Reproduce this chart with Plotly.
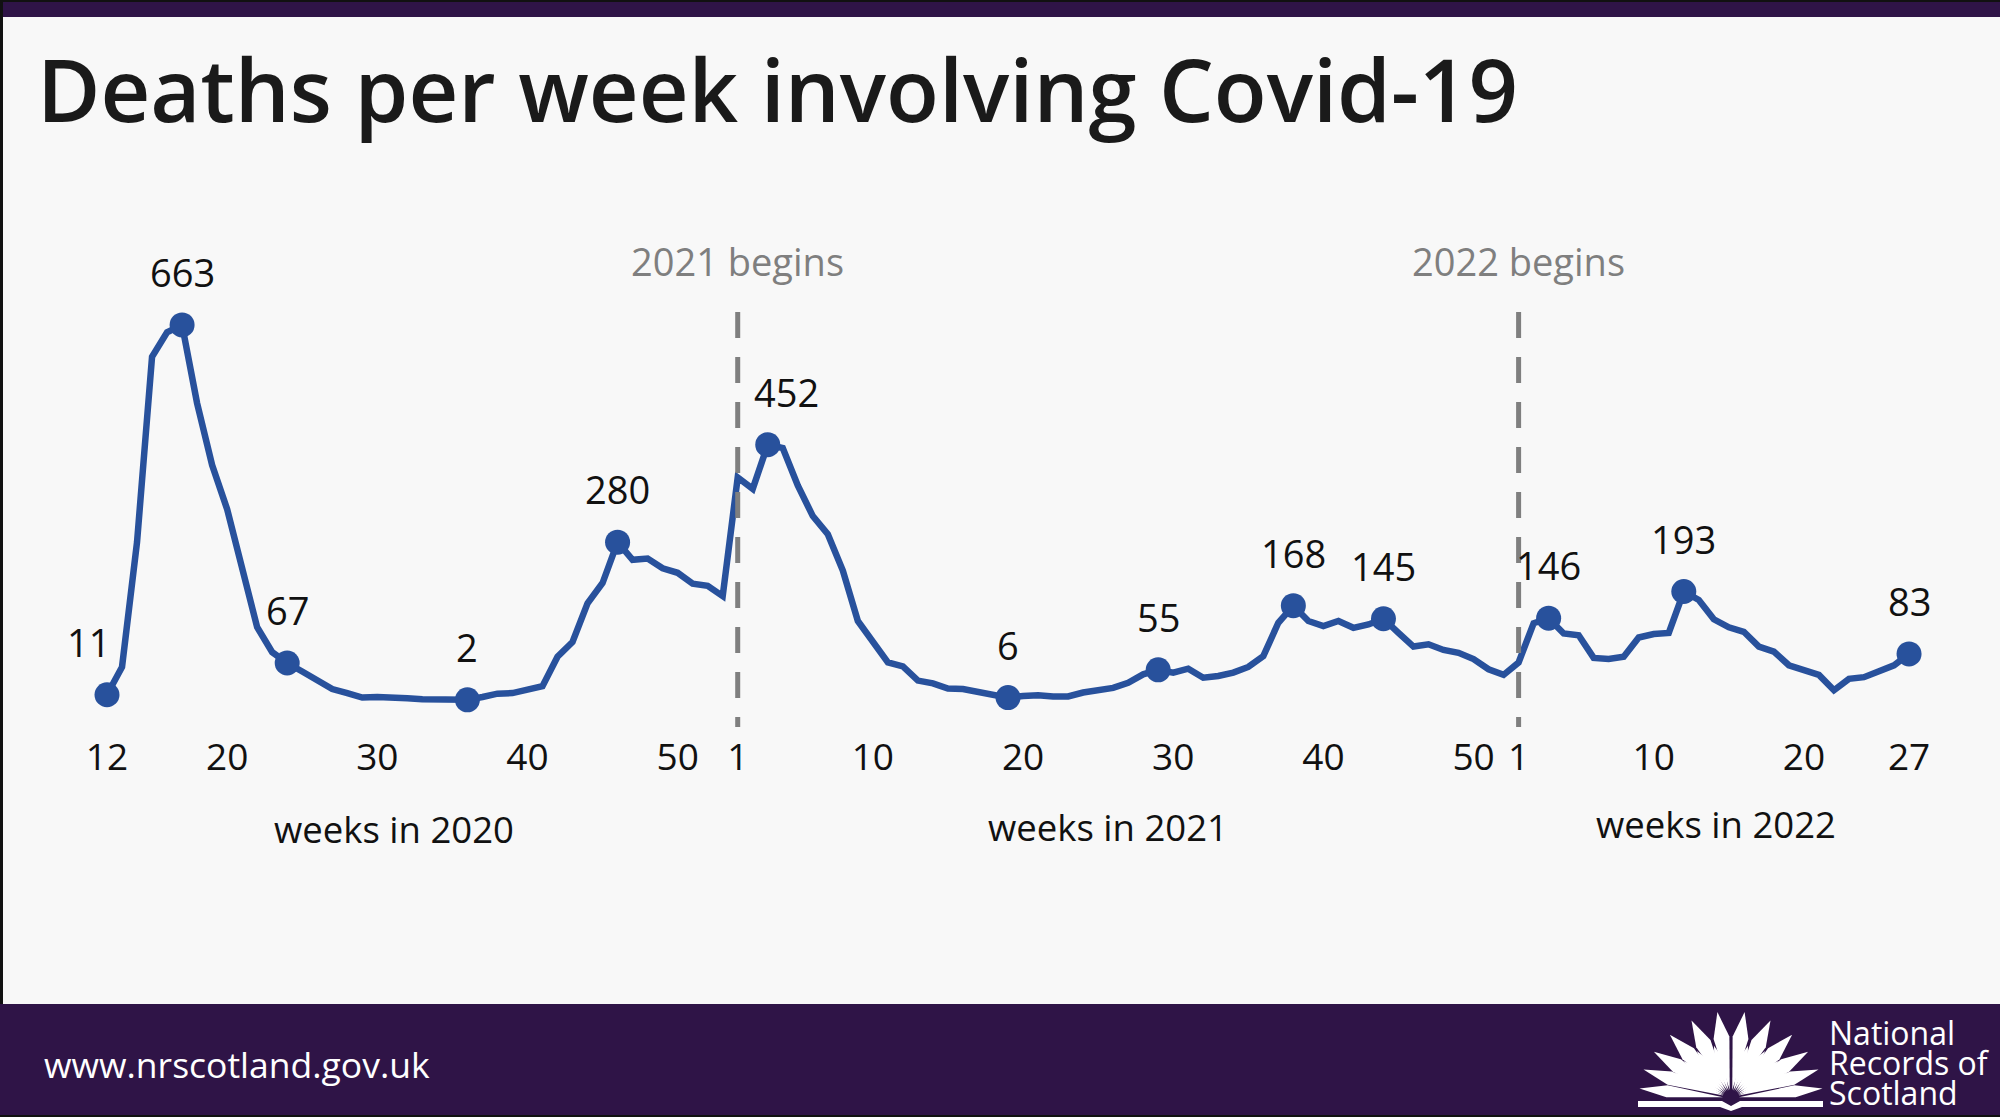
import math
import plotly.graph_objects as go

# ---------------- data ----------------
weeks_2020 = list(range(12, 54))
deaths_2020 = [11, 60, 280, 607, 650, 663, 525, 416, 338, 236, 130, 86, 67,
               52, 38, 21, 14, 6, 7, 7, 5, 3, 3, 4, 2,
               7, 13, 14, 21, 26, 78, 104, 172, 208, 280,
               249, 251, 234, 226, 207, 203, 185]
weeks_2021 = list(range(1, 53))
deaths_2021 = [394, 374, 452, 446, 380, 326, 294, 230, 141, 104,
               68, 61, 36, 31, 22, 21, 16, 9, 6, 9,
               10, 8, 8, 15, 18, 23, 32, 47, 55, 50,
               57, 41, 44, 50, 60, 79, 138, 168, 141, 132,
               141, 129, 135, 145, 120, 96, 100, 90, 85, 74,
               56, 46]
weeks_2022 = list(range(1, 28))
deaths_2022 = [68, 137, 146, 119, 116, 76, 74, 78, 112, 118, 120, 193, 178,
               144, 130, 122, 96, 87, 63, 54, 46, 19, 39, 42, 54, 63, 83]

labelled_2020 = [12, 17, 24, 36, 46]
labelled_2021 = [3, 19, 29, 38, 44]
labelled_2022 = [3, 12, 27]

ticks_2020 = [12, 20, 30, 40, 50]
ticks_2021 = [1, 10, 20, 30, 40, 50]
ticks_2022 = [1, 10, 20, 27]

year_titles = ["weeks in 2020", "weeks in 2021", "weeks in 2022"]
year_markers = ["2021 begins", "2022 begins"]

# ---------------- build sequential index ----------------
years = [(weeks_2020, deaths_2020, labelled_2020, ticks_2020),
         (weeks_2021, deaths_2021, labelled_2021, ticks_2021),
         (weeks_2022, deaths_2022, labelled_2022, ticks_2022)]

x_all, y_all = [], []
mk_x, mk_y = [], []
tickvals, ticktext = [], []
year_start = []
offset = 0
for weeks, deaths, labelled, ticks in years:
    year_start.append(offset)
    for i, (w, d) in enumerate(zip(weeks, deaths)):
        x_all.append(offset + i)
        y_all.append(d)
        if w in labelled:
            mk_x.append(offset + i)
            mk_y.append(d)
        if w in ticks:
            tickvals.append(offset + i)
            ticktext.append(str(w))
    offset += len(weeks)

W, H = 2000, 1117
BG = "#F8F8F8"
PURPLE = "#2F1447"
BLUE = "#28519C"
GREY = "#7F7F7F"
FONT = "Open Sans"


def px(x):
    return x / W


def py(y):
    return 1 - y / H


# pixel geometry of plot area
X_L, X_R = 60, 1960
Y_T, Y_B = 230, 720
X0_PX, STEP = 107, 15.017
ZERO_PX, PER = 701, 0.5672

fig = go.Figure()
fig.add_trace(go.Scatter(x=x_all, y=y_all, mode="lines",
                         line=dict(color=BLUE, width=6.5),
                         hoverinfo="skip", cliponaxis=False))
fig.add_trace(go.Scatter(x=mk_x, y=mk_y, mode="markers",
                         marker=dict(color=BLUE, size=25),
                         hoverinfo="skip", cliponaxis=False))

annotations = []
# data labels
for xv, yv in zip(mk_x, mk_y):
    xs = 0
    if xv == 0:
        xs = -19
    if xv == year_start[1] + 2:
        xs = 19
    annotations.append(dict(x=xv, y=yv, xref="x", yref="y", text=str(yv),
                            showarrow=False, yshift=53, xshift=xs,
                            xanchor="center", yanchor="middle",
                            font=dict(family=FONT, size=38, color="#111111")))

# dashed year separators
shapes = []
for k, yr_lbl in enumerate(year_markers):
    xs_idx = year_start[k + 1]
    shapes.append(dict(type="line", xref="x", yref="paper", x0=xs_idx, x1=xs_idx,
                       y0=py(312), y1=py(727),
                       line=dict(color=GREY, width=5, dash="26px,19px")))
    annotations.append(dict(x=xs_idx, y=py(261), xref="x", yref="paper",
                            text=yr_lbl, showarrow=False,
                            xanchor="center", yanchor="middle",
                            font=dict(family=FONT, size=38, color=GREY)))

# year axis titles
title_pos = [(394, 829), (1108, 827), (1716, 824)]
for t, (tx, ty) in zip(year_titles, title_pos):
    annotations.append(dict(x=px(tx), y=py(ty), xref="paper", yref="paper",
                            text=t, showarrow=False,
                            xanchor="center", yanchor="middle",
                            font=dict(family=FONT, size=36.5, color="#111111")))

# main title
annotations.append(dict(x=px(35), y=py(88), xref="paper", yref="paper",
                        text="Deaths per week involving Covid-19", showarrow=False,
                        xanchor="left", yanchor="middle",
                        font=dict(family=FONT, size=86.6, color="#1A1A1A", weight=600)))

# footer
annotations.append(dict(x=px(42), y=py(1064), xref="paper", yref="paper",
                        text="www.nrscotland.gov.uk", showarrow=False,
                        xanchor="left", yanchor="middle",
                        font=dict(family=FONT, size=35.5, color="white")))
for txt, yy in [("National", 1032), ("Records of", 1062), ("Scotland", 1092)]:
    annotations.append(dict(x=px(1827), y=py(yy), xref="paper", yref="paper",
                            text=txt, showarrow=False, xanchor="left", yanchor="middle",
                            font=dict(family=FONT, size=32, color="white")))

# frame shapes
shapes += [
    dict(type="rect", xref="paper", yref="paper", x0=0, x1=1, y0=py(17), y1=1,
         fillcolor=PURPLE, line=dict(width=0), layer="below"),
    dict(type="rect", xref="paper", yref="paper", x0=0, x1=1, y0=py(2), y1=1,
         fillcolor="#111111", line=dict(width=0), layer="below"),
    dict(type="rect", xref="paper", yref="paper", x0=0, x1=px(3), y0=py(1004), y1=1,
         fillcolor="#111111", line=dict(width=0), layer="below"),
    dict(type="rect", xref="paper", yref="paper", x0=0, x1=1, y0=0, y1=py(1004),
         fillcolor=PURPLE, line=dict(width=0), layer="below"),
    dict(type="rect", xref="paper", yref="paper", x0=0, x1=1, y0=0, y1=py(1115),
         fillcolor="#111111", line=dict(width=0), layer="below"),
]

# logo: fan of leaves over an open book
cx, cy = 1731, 1098
leaves = [(9, 87, 8), (-9, 87, 8), (27, 87, 8), (-27, 87, 8),
          (44, 88, 8), (-44, 88, 8), (59, 90, 7.5), (-59, 90, 7.5),
          (72, 92, 7), (-72, 92, 7), (84, 92, 6), (-84, 92, 6),
          (18, 55, 5), (-18, 55, 5), (36, 58, 5), (-36, 58, 5),
          (52, 60, 5), (-52, 60, 5), (66, 62, 5), (-66, 62, 5)]
for ang, length, hw in leaves:
    a = math.radians(ang)
    ux, uy = math.sin(a), -math.cos(a)
    nx, ny = -uy, ux
    r0, rm, r1 = 8, length * 0.7, length
    pts = [(cx + ux * r0, cy + uy * r0),
           (cx + ux * rm + nx * hw, cy + uy * rm + ny * hw),
           (cx + ux * r1, cy + uy * r1),
           (cx + ux * rm - nx * hw, cy + uy * rm - ny * hw)]
    path = "M " + " L ".join(f"{px(p[0]):.5f},{py(p[1]):.5f}" for p in pts) + " Z"
    shapes.append(dict(type="path", xref="paper", yref="paper", path=path,
                       fillcolor="white", line=dict(width=0)))
book = [(1638, 1101), (1722, 1101), (1731, 1106), (1740, 1101), (1823, 1101),
        (1823, 1107), (1742, 1107), (1731, 1111), (1720, 1107), (1638, 1107)]
shapes.append(dict(type="path", xref="paper", yref="paper",
                   path="M " + " L ".join(f"{px(p[0]):.5f},{py(p[1]):.5f}" for p in book) + " Z",
                   fillcolor="white", line=dict(width=0)))

x_lo = -(X0_PX - X_L) / STEP
x_hi = (X_R - X0_PX) / STEP
y_lo = -(Y_B - ZERO_PX) / PER
y_hi = (ZERO_PX - Y_T) / PER

fig.update_layout(
    width=W, height=H, autosize=False,
    margin=dict(l=0, r=0, t=0, b=0),
    paper_bgcolor=BG, plot_bgcolor=BG,
    showlegend=False,
    xaxis=dict(domain=[px(X_L), px(X_R)], range=[x_lo, x_hi],
               tickvals=tickvals, ticktext=ticktext,
               ticks="outside", ticklen=5, tickcolor=BG,
               showgrid=False, zeroline=False, showline=False,
               tickfont=dict(family=FONT, size=37, color="#111111")),
    yaxis=dict(domain=[py(Y_B), py(Y_T)], range=[y_lo, y_hi], visible=False),
    shapes=shapes, annotations=annotations,
)

fig.write_html("out.html",
               config={"displayModeBar": False},
               post_script="document.body.style.margin='0px';"
                           "document.body.style.overflow='hidden';")
